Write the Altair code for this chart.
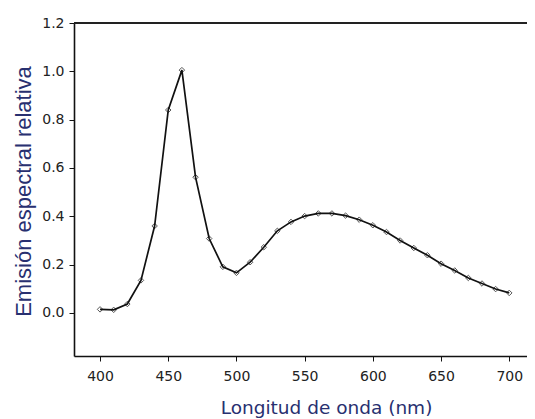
import altair as alt
import pandas as pd

wavelength = [400, 410, 420, 430, 440, 450, 460, 470, 480, 490, 500,
              510, 520, 530, 540, 550, 560, 570, 580, 590, 600,
              610, 620, 630, 640, 650, 660, 670, 680, 690, 700]
emission = [0.015, 0.013, 0.037, 0.135, 0.36, 0.84, 1.005, 0.562, 0.308, 0.191, 0.166,
            0.21, 0.272, 0.34, 0.377, 0.401, 0.412, 0.412, 0.403, 0.386, 0.363,
            0.335, 0.30, 0.269, 0.239, 0.204, 0.176, 0.145, 0.122, 0.099, 0.083]
x_ticks = [400, 450, 500, 550, 600, 650, 700]
y_ticks = [0.0, 0.2, 0.4, 0.6, 0.8, 1.0, 1.2]

df = pd.DataFrame({"nm": wavelength, "em": emission})

title_color = "#283070"

x_enc = alt.X(
    "nm:Q",
    scale=alt.Scale(domain=[380.9, 713], nice=False, zero=False),
    axis=alt.Axis(
        title="Longitud de onda (nm)",
        values=x_ticks,
        format="d",
        grid=False,
        tickSize=5,
        labelPadding=8,
        labelFont="DejaVu Sans",
        labelFontSize=14,
        labelColor="#222222",
        domainColor="#111111",
        domainWidth=1.6,
        tickColor="#111111",
        titleFont="DejaVu Sans",
        titleFontSize=18.5,
        titleFontWeight="normal",
        titleColor=title_color,
        titleX=252,
        titleY=51,
        titleBaseline="middle",
        titleAlign="center",
    ),
)
y_enc = alt.Y(
    "em:Q",
    scale=alt.Scale(domain=[-0.178, 1.2], nice=False, zero=False),
    axis=alt.Axis(
        title="Emisión espectral relativa",
        values=y_ticks,
        format=".1f",
        grid=False,
        tickSize=5,
        labelPadding=5,
        labelFont="DejaVu Sans",
        labelFontSize=14,
        labelColor="#222222",
        domainColor="#111111",
        domainWidth=1.6,
        tickColor="#111111",
        titleFont="Liberation Sans",
        titleFontSize=22,
        titleFontWeight="normal",
        titleColor=title_color,
        titleAngle=270,
        titleX=-51,
        titleY=168,
        titleBaseline="middle",
        titleAlign="center",
    ),
)

base = alt.Chart(df)
line = base.mark_line(color="#111111", strokeWidth=1.7).encode(x=x_enc, y=y_enc)
pts = base.mark_point(shape="diamond", filled=False, color="#111111", size=30,
                      strokeWidth=1).encode(x="nm:Q", y="em:Q")
top = alt.Chart(df).mark_rule(color="#222222", strokeWidth=2.2).encode(y=alt.datum(1.2))

chart = alt.layer(top, line, pts).properties(
    width=453,
    height=333,
    autosize=alt.AutoSizeParams(type="none"),
    padding={"left": 66, "top": 15, "right": 0, "bottom": 62},
).configure_view(stroke=None).configure(background="white")

chart.save("out.html", embed_options={"renderer": "svg", "actions": False})
